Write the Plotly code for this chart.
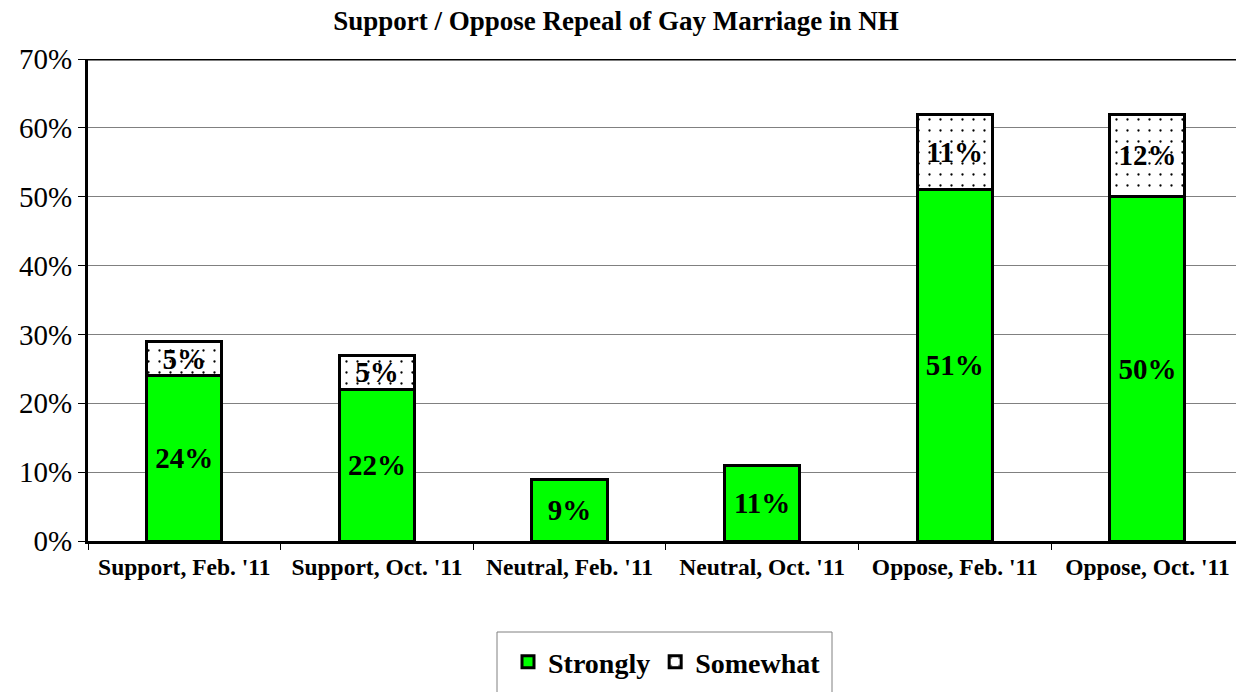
import plotly.graph_objects as go

categories = ["Support, Feb. '11", "Support, Oct. '11", "Neutral, Feb. '11",
              "Neutral, Oct. '11", "Oppose, Feb. '11", "Oppose, Oct. '11"]
strongly = [24, 22, 9, 11, 51, 50]
somewhat = [5, 5, None, None, 11, 12]
y_ticks = [0, 10, 20, 30, 40, 50, 60, 70]

FONT = "Liberation Serif, Times New Roman, serif"

W, H = 1236, 692
PL, PR, PT, PB = 88, 1236, 59, 541  # plot area in page pixels


def px_x(x):
    return (x - PL) / (PR - PL)


def px_y(y):
    return (PB - y) / (PB - PT)


fig = go.Figure()
fig.add_trace(go.Bar(
    name="Strongly", x=categories, y=strongly,
    marker=dict(color="#00FF00", line=dict(color="black", width=3)),
    text=[f"{v}%" for v in strongly], textposition="inside",
    insidetextanchor="middle", constraintext="none",
    textfont=dict(family=FONT, size=29, color="black", weight="bold"),
    width=0.39,
))
fig.add_trace(go.Bar(
    name="Somewhat", x=categories, y=somewhat,
    marker=dict(color="white", line=dict(color="black", width=3),
                pattern=dict(shape=".", fgcolor="black", bgcolor="white",
                             size=11, solidity=0.035, fillmode="replace")),
    text=[f"{v}%" if v is not None else "" for v in somewhat], textposition="inside",
    insidetextanchor="middle", constraintext="none",
    textfont=dict(family=FONT, size=29, color="black", weight="bold"),
    width=0.39,
))

fig.update_layout(
    barmode="stack",
    width=W, height=H,
    margin=dict(l=PL, r=W - PR, t=PT, b=H - PB, autoexpand=False),
    paper_bgcolor="white", plot_bgcolor="white",
    title=dict(text="<b>Support / Oppose Repeal of Gay Marriage in NH</b>",
               x=616 / W, xref="container", xanchor="center",
               y=1 - 21 / H, yanchor="middle",
               font=dict(family=FONT, size=27, color="black")),
    showlegend=True,
    legend=dict(orientation="h", x=px_x(508), xanchor="left", y=px_y(637), yanchor="top",
                borderwidth=0, bgcolor="rgba(0,0,0,0)",
                font=dict(family=FONT, size=28, color="black", weight="bold"),
                traceorder="normal"),
    shapes=[
        dict(type="line", xref="paper", yref="y", x0=0, x1=1, y0=70, y1=70,
             line=dict(color="black", width=3)),
        dict(type="rect", xref="paper", yref="paper",
             x0=px_x(497), x1=px_x(832), y0=px_y(632), y1=px_y(720),
             line=dict(color="#808080", width=1), fillcolor="rgba(0,0,0,0)", layer="below"),
    ],
)
fig.update_xaxes(
    range=[-0.5, 5.46], automargin=False,
    showline=True, linecolor="black", linewidth=3,
    ticks="outside", tickson="boundaries", ticklen=6, tickcolor="black", tickwidth=1,
    ticklabelstandoff=3,
    tickfont=dict(family=FONT, size=23.5, color="black", weight="bold"),
    showgrid=False,
)
fig.update_yaxes(
    range=[0, 70], tickvals=y_ticks, ticktext=[f"{v}%" for v in y_ticks], automargin=False,
    showline=True, linecolor="black", linewidth=3,
    ticks="outside", ticklen=7, tickcolor="black", tickwidth=1,
    tickfont=dict(family=FONT, size=29, color="black"),
    showgrid=True, gridcolor="#808080", gridwidth=1,
    zeroline=False,
)

fig.write_html("out.html",
               config={"displayModeBar": False},
               post_script="document.body.style.margin='0';document.body.style.overflow='hidden';")
